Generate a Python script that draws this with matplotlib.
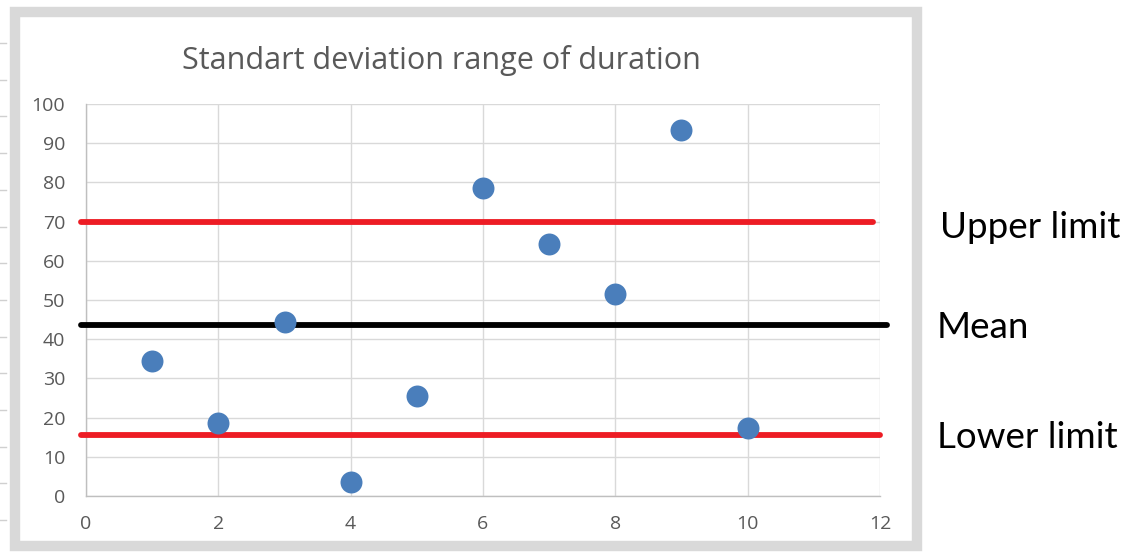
import matplotlib

matplotlib.use("Agg")
import matplotlib.pyplot as plt
from matplotlib.lines import Line2D
from matplotlib.patches import Rectangle

# data
x_vals = [1, 2, 3, 4, 5, 6, 7, 8, 9, 10]
durations = [34.4, 18.6, 44.4, 3.6, 25.5, 78.6, 64.3, 51.5, 93.4, 17.3]
upper_limit = 70.0
mean_value = 43.6
lower_limit = 15.6
x_ticks = [0, 2, 4, 6, 8, 10, 12]
y_ticks = [0, 10, 20, 30, 40, 50, 60, 70, 80, 90, 100]

plt.rcParams["font.family"] = ["Open Sans", "DejaVu Sans"]

W, H = 1129, 556
fig = plt.figure(figsize=(W / 100, H / 100), dpi=100)
fig.patch.set_facecolor("white")

# grey chart frame (like the Excel chart border)
fig.patches.append(Rectangle((15 / W, 1 - 546 / H), 902 / W, 534 / H,
                             transform=fig.transFigure, fill=False,
                             edgecolor="#d9d9d9", linewidth=7.5))
# worksheet row marks at the far left
for k in range(14):
    yy = 1 - (43 + 36.7 * k) / H
    if yy < 0:
        break
    fig.add_artist(Line2D([0, 6 / W], [yy, yy], transform=fig.transFigure,
                          color="#d0d0d0", linewidth=1))

ax = fig.add_axes([86 / W, 1 - 496 / H, 794 / W, 392 / H])
ax.set_xlim(0, 12)
ax.set_ylim(0, 100)
ax.set_xticks(x_ticks)
ax.set_yticks(y_ticks)
ax.grid(True, color="#d9d9d9", linewidth=1)
ax.set_axisbelow(True)
for side in ["top", "right"]:
    ax.spines[side].set_visible(False)
for side in ["left", "bottom"]:
    ax.spines[side].set_color("#bfbfbf")
    ax.spines[side].set_linewidth(1)
ax.tick_params(length=0, labelsize=14, labelcolor="#595959")
ax.tick_params(axis="y", pad=15)
ax.tick_params(axis="x", pad=14)

# limit and mean lines, hand-drawn in the original so they overrun the axis a bit
ax.plot([-0.08, 11.9], [upper_limit, upper_limit], color="#ed1c24", linewidth=4.2,
        solid_capstyle="round", clip_on=False, zorder=3)
ax.plot([-0.08, 12.1], [mean_value, mean_value], color="black", linewidth=4.2,
        solid_capstyle="round", clip_on=False, zorder=3)
ax.plot([-0.08, 12.0], [lower_limit, lower_limit], color="#ed1c24", linewidth=4.2,
        solid_capstyle="round", clip_on=False, zorder=3)

ax.scatter(x_vals, durations, s=250, color="#4a7ebb", zorder=4, linewidths=0)

fig.text(441 / W, 1 - 60 / H, "Standart deviation range of duration",
         ha="center", va="center", fontsize=22, color="#595959")

for label, xx, yy in [("Upper limit", 940, 228), ("Mean", 937, 327), ("Lower limit", 937, 437)]:
    fig.text(xx / W, 1 - yy / H, label, ha="left", va="center",
             fontsize=26.5, color="black", family=["Lato", "DejaVu Sans"])

fig.savefig("out.png", dpi=100)
